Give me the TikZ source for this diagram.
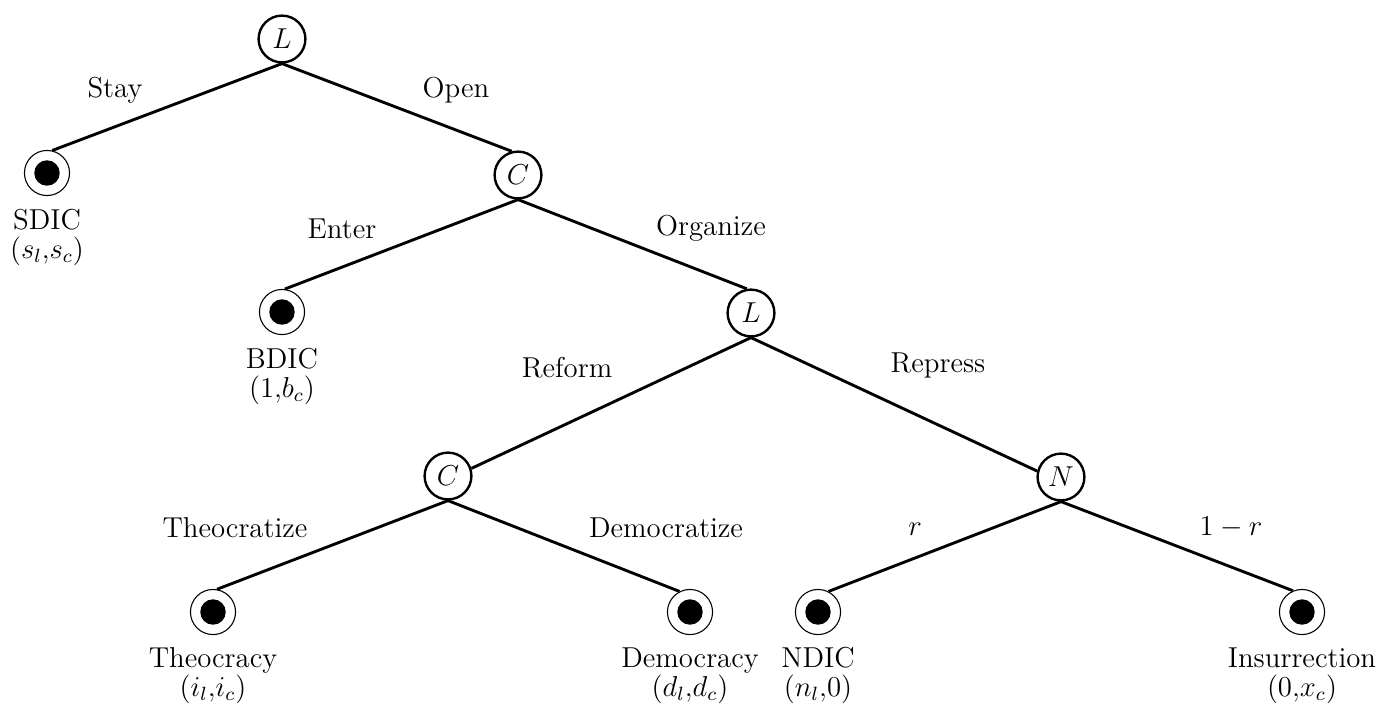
\documentclass[tikz,border=0pt]{standalone}
\usetikzlibrary{calc}
\begin{document}
\begin{tikzpicture}[x=0.41667pt,y=-0.41667pt,
  every node/.style={font=\fontsize{12}{14}\selectfont},
  dec/.style={circle,draw,line width=1pt,minimum size=19.5pt,inner sep=0pt},
  term/.style={circle,draw,line width=0.45pt,minimum size=18.8pt,inner sep=0pt,
    path picture={\fill (path picture bounding box.center) circle (5.3pt);}},
  branch/.style={line width=1.2pt},
  lab/.style={anchor=base,inner sep=0pt},
]
\useasboundingbox (0,0) rectangle (1396,715);
% decision and terminal nodes
\node[dec] (r) at (282,39) {$L$};
\node[term] (sdic) at (47,173) {};
\node[dec] (c1) at (518,175) {$C$};
\node[term] (bdic) at (282,312) {};
\node[dec] (l2) at (751,313) {$L$};
\node[dec] (c3) at (448,476) {$C$};
\node[dec] (n) at (1061,477) {$N$};
\node[term] (theo) at (213,612) {};
\node[term] (demo) at (690,612) {};
\node[term] (ndic) at (818,612) {};
\node[term] (ins) at (1302,612) {};
% branches
\draw[branch] (r.south) -- (sdic.77);
\draw[branch] (r.south) -- (c1.105);
\draw[branch] (c1.south) -- (bdic.83);
\draw[branch] (c1.south) -- (l2.100);
\draw[branch] (l2.south) -- (c3.18);
\draw[branch] (l2.south) -- (n.166);
\draw[branch] (c3.south) -- (theo.80);
\draw[branch] (c3.south) -- (demo.117);
\draw[branch] (n.south) -- (ndic.63);
\draw[branch] (n.south) -- (ins.113);
% branch labels
\node[lab] (lstay) at (115,97) {Stay};
\node[lab] (lopen) at (456,97) {Open};
\node[lab] (lenter) at (342,238) {Enter};
\node[lab] (lorg) at (711,235) {Organize};
\node[lab] (lref) at (567,377) {Reform};
\node[lab] (lrep) at (938,372) {Repress};
\node[lab] (ltheo) at (235,537) {Theocratize};
\node[lab] (ldemo) at (666,537) {Democratize};
\node[lab] (lr) at (915,535) {$r$};
\node[lab] (l1r) at (1231,535) {$1-r$};
% outcome labels
\node[lab] (tsdic) at (47,229) {SDIC};
\node[lab] (psdic) at (47,258) {$(s_l{,}s_c)$};
\node[lab] (tbdic) at (282,368) {BDIC};
\node[lab] (pbdic) at (282,397) {$(1{,}b_c)$};
\node[lab] (ttheo) at (213,667) {Theocracy};
\node[lab] (ptheo) at (213,696) {$(i_l{,}i_c)$};
\node[lab] (tdemo) at (690,667) {Democracy};
\node[lab] (pdemo) at (690,696) {$(d_l{,}d_c)$};
\node[lab] (tndic) at (818,667) {NDIC};
\node[lab] (pndic) at (818,696) {$(n_l{,}0)$};
\node[lab] (tins) at (1302,667) {Insurrection};
\node[lab] (pins) at (1302,696) {$(0{,}x_c)$};
\end{tikzpicture}
\end{document}
